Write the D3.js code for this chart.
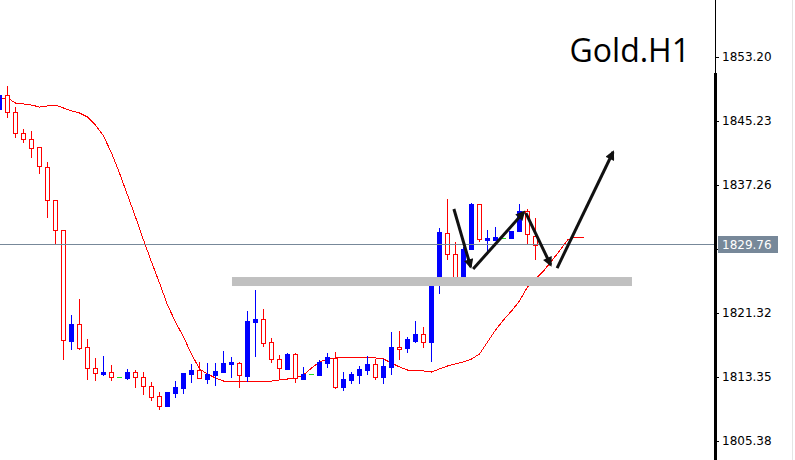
<!DOCTYPE html>
<html lang="en">
<meta charset="utf-8">
<style>
  body { margin: 0; background: #fff; }
  svg { display: block; }
  .tick text { font-family: 'DejaVu Sans', sans-serif; font-size: 12px; fill: #000; }
</style>
<body>
<div id="chart"></div>
<script src="https://d3js.org/d3.v7.min.js"></script>
<script>

// hourly bars, oldest first
var opens = [1846.72, 1848.47, 1846.35, 1843.74, 1842.99, 1841.99, 1839.50, 1835.39, 1831.66, 1817.83,
  1819.95, 1817.09, 1814.47, 1813.72, 1813.97, 1813.35, 1813.23, 1813.97, 1813.35, 1812.23,
  1810.98, 1809.74, 1811.36, 1811.98, 1813.72, 1814.22, 1813.10, 1813.60, 1813.97, 1814.97,
  1815.09, 1813.48, 1820.20, 1820.57, 1817.71, 1815.59, 1814.35, 1816.21, 1813.10, 1813.72,
  1813.60, 1815.09, 1815.72, 1812.11, 1812.98, 1813.60, 1814.22, 1814.97, 1813.35, 1814.60,
  1817.09, 1816.96, 1817.83, 1818.70, 1817.71, 1825.06, 1831.28, 1828.67, 1825.80, 1829.29,
  1834.89, 1830.41, 1830.41, 1830.66, 1830.66, 1831.53, 1834.02, 1830.91];
var highs = [1848.84, 1849.59, 1846.97, 1844.23, 1843.99, 1841.99, 1840.12, 1835.39, 1831.66, 1821.07,
  1823.06, 1818.08, 1815.72, 1815.97, 1814.85, 1813.35, 1814.35, 1814.22, 1813.97, 1812.73,
  1811.48, 1811.48, 1812.85, 1813.85, 1814.97, 1815.22, 1815.09, 1815.09, 1816.59, 1815.84,
  1815.22, 1821.57, 1824.18, 1821.82, 1818.21, 1816.09, 1816.34, 1816.34, 1814.60, 1813.72,
  1815.47, 1816.34, 1816.46, 1813.97, 1813.97, 1814.72, 1815.97, 1815.59, 1815.59, 1818.95,
  1819.08, 1818.33, 1820.32, 1819.58, 1825.06, 1831.91, 1835.52, 1830.16, 1829.54, 1835.02,
  1834.89, 1831.66, 1832.03, 1830.66, 1831.53, 1834.89, 1834.27, 1833.15];
var lows = [1846.60, 1845.73, 1843.24, 1842.61, 1840.75, 1838.75, 1833.28, 1829.91, 1815.59, 1816.84,
  1816.84, 1813.10, 1812.98, 1813.60, 1812.98, 1813.35, 1813.10, 1812.11, 1811.23, 1810.49,
  1809.37, 1809.74, 1810.86, 1811.36, 1812.73, 1813.23, 1812.60, 1812.35, 1813.97, 1813.35,
  1812.11, 1812.85, 1815.97, 1817.21, 1815.22, 1813.10, 1814.35, 1812.73, 1813.10, 1813.72,
  1813.60, 1814.60, 1811.98, 1811.73, 1812.60, 1812.60, 1813.72, 1813.10, 1812.60, 1813.72,
  1815.59, 1816.46, 1817.71, 1817.09, 1815.34, 1823.81, 1828.04, 1825.80, 1825.80, 1829.29,
  1830.29, 1828.79, 1830.41, 1830.66, 1830.66, 1831.53, 1829.91, 1828.04];
var closes = [1848.47, 1846.35, 1843.74, 1842.99, 1841.87, 1839.63, 1835.39, 1831.66, 1817.96, 1819.95,
  1816.96, 1814.47, 1813.85, 1813.97, 1813.35, 1813.35, 1813.97, 1813.35, 1812.23, 1810.86,
  1809.74, 1811.48, 1812.11, 1813.85, 1814.22, 1813.23, 1813.72, 1814.10, 1815.09, 1815.22,
  1813.60, 1820.32, 1820.57, 1817.58, 1815.59, 1814.47, 1816.21, 1813.23, 1813.72, 1813.72,
  1815.22, 1815.84, 1812.11, 1813.10, 1813.72, 1814.35, 1814.97, 1813.35, 1814.72, 1817.09,
  1816.84, 1818.08, 1818.70, 1817.71, 1825.06, 1831.41, 1828.67, 1825.80, 1829.29, 1834.89,
  1830.54, 1830.66, 1830.78, 1830.66, 1831.53, 1834.02, 1831.16, 1829.76];

// shifted moving average (runs a few bars past the last candle)
var maValues = [1848.09, 1848.09, 1847.47, 1847.35, 1847.22, 1846.97, 1847.10, 1847.22, 1846.85, 1846.48,
  1846.23, 1845.73, 1844.73, 1843.36, 1841.25, 1838.75, 1836.02, 1833.28, 1830.41, 1827.67,
  1825.06, 1822.32, 1820.20, 1818.33, 1816.21, 1814.35, 1813.72, 1813.23, 1812.85, 1812.73,
  1812.73, 1812.73, 1812.73, 1812.85, 1812.85, 1812.98, 1813.10, 1813.23, 1813.60, 1814.47,
  1815.22, 1815.59, 1815.72, 1815.72, 1815.72, 1815.72, 1815.72, 1815.72, 1815.59, 1815.09,
  1814.60, 1814.22, 1814.22, 1814.10, 1813.97, 1814.35, 1814.72, 1814.97, 1815.22, 1815.59,
  1816.21, 1817.71, 1819.20, 1820.45, 1821.57, 1822.81, 1824.56, 1825.55, 1826.55, 1827.80,
  1829.04, 1830.41, 1830.78, 1830.66];

var priceTicks = [1853.20, 1845.23, 1837.26, 1829.29, 1821.32, 1813.35, 1805.38];
var lastPrice = 1829.76;
var title = "Gold.H1";

// support zone rectangle (bar index / price)
var zoneBars = [29.06, 79.06];
var zonePrices = [1824.68, 1825.80];

// drawn arrows: [bar, price] start -> end
var arrowStarts = [[56.8, 1834.27], [59.2, 1826.80], [65.8, 1833.77], [69.7, 1826.92]];
var arrowEnds = [[58.9, 1827.05], [65.56, 1833.90], [68.9, 1827.30], [76.7, 1841.37]];

var width = 795,
    height = 460,
    axisX = 715;

var x = d3.scaleLinear().domain([0, 89]).range([-0.5, 711.5]);
var y = d3.scaleLinear().domain([1805.38, 1853.20]).range([441, 57]);

var svg = d3.select("#chart").append("svg")
    .attr("width", width)
    .attr("height", height);

svg.append("rect").attr("width", width).attr("height", height).attr("fill", "#fff");

var py = function(v) { return Math.round(y(v)) + 0.5; };

// moving average
svg.append("path")
    .datum(maValues)
    .attr("fill", "none")
    .attr("stroke", "#ff0000")
    .attr("stroke-width", 1)
    .attr("shape-rendering", "crispEdges")
    .attr("d", d3.line().x(function(d, i) { return x(i); }).y(function(d) { return y(d); }));

// candles
var bars = d3.range(opens.length).map(function(i) {
  return { i: i, o: opens[i], h: highs[i], l: lows[i], c: closes[i] };
});

var candle = svg.append("g").attr("shape-rendering", "crispEdges")
  .selectAll("g").data(bars).enter().append("g");

candle.filter(function(d) { return d.o !== d.c; })
  .append("line")
    .attr("x1", function(d) { return x(d.i); })
    .attr("x2", function(d) { return x(d.i); })
    .attr("y1", function(d) { return py(d.h) - 0.5; })
    .attr("y2", function(d) { return py(d.l) + 0.5; })
    .attr("stroke", function(d) { return d.c > d.o ? "#0000ff" : "#ff0000"; });

// up bars: solid blue
candle.filter(function(d) { return d.c > d.o; })
  .append("rect")
    .attr("x", function(d) { return x(d.i) - 2.5; })
    .attr("width", 5)
    .attr("y", function(d) { return py(d.c) - 0.5; })
    .attr("height", function(d) { return Math.max(2, py(d.o) - py(d.c) + 1); })
    .attr("fill", "#0000ff");

// down bars: hollow red
candle.filter(function(d) { return d.c < d.o; })
  .append("rect")
    .attr("x", function(d) { return x(d.i) - 2; })
    .attr("width", 4)
    .attr("y", function(d) { return py(d.o); })
    .attr("height", function(d) { return Math.max(1, py(d.c) - py(d.o)); })
    .attr("fill", "#fff")
    .attr("stroke", "#ff0000");

// doji
candle.filter(function(d) { return d.c === d.o; })
  .append("line")
    .attr("x1", function(d) { return x(d.i) - 2.5; })
    .attr("x2", function(d) { return x(d.i) + 2.5; })
    .attr("y1", function(d) { return py(d.c); })
    .attr("y2", function(d) { return py(d.c); })
    .attr("stroke", "#22dd22");

// grey zone
svg.append("rect")
    .attr("x", x(zoneBars[0]))
    .attr("width", x(zoneBars[1]) - x(zoneBars[0]))
    .attr("y", y(zonePrices[1]))
    .attr("height", y(zonePrices[0]) - y(zonePrices[1]))
    .attr("fill", "#c0c0c0");

// current price line
svg.append("line")
    .attr("x1", 0).attr("x2", axisX)
    .attr("y1", py(lastPrice) - 1).attr("y2", py(lastPrice) - 1)
    .attr("stroke", "#778899")
    .attr("shape-rendering", "crispEdges");

// arrows
svg.append("defs").append("marker")
    .attr("id", "head")
    .attr("viewBox", "0 0 10 10")
    .attr("refX", 8).attr("refY", 5)
    .attr("markerWidth", 3.6).attr("markerHeight", 3.2)
    .attr("markerUnits", "strokeWidth")
    .attr("orient", "auto")
  .append("path")
    .attr("d", "M0,0L10,5L0,10z")
    .attr("fill", "#111");

svg.append("g").selectAll("line")
    .data(arrowStarts)
  .enter().append("line")
    .attr("x1", function(d) { return x(d[0]); })
    .attr("y1", function(d) { return y(d[1]); })
    .attr("x2", function(d, i) { return x(arrowEnds[i][0]); })
    .attr("y2", function(d, i) { return y(arrowEnds[i][1]); })
    .attr("stroke", "#111")
    .attr("stroke-width", 3)
    .attr("marker-end", "url(#head)");

// price axis
var axis = svg.append("g")
    .attr("transform", "translate(" + axisX + ",0)")
    .call(d3.axisRight(y)
      .tickValues(priceTicks)
      .tickFormat(d3.format(".2f"))
      .tickSize(4)
      .tickPadding(3));
axis.select(".domain").remove();
axis.selectAll(".tick line").attr("stroke", "#000").attr("shape-rendering", "crispEdges");

svg.append("line")
    .attr("x1", axisX + 0.5).attr("x2", axisX + 0.5)
    .attr("y1", 0).attr("y2", height)
    .attr("stroke", "#000")
    .attr("shape-rendering", "crispEdges");
svg.append("rect")
    .attr("x", axisX - 1).attr("width", 3)
    .attr("y", 73).attr("height", height - 73)
    .attr("fill", "#000");
svg.append("line")
    .attr("x1", 792.5).attr("x2", 792.5)
    .attr("y1", 0).attr("y2", height)
    .attr("stroke", "#e4e4e4");

// current price label
svg.append("rect")
    .attr("x", 718).attr("width", 60)
    .attr("y", py(lastPrice) - 9.5).attr("height", 17)
    .attr("fill", "#778899");
svg.append("text")
    .attr("x", 722).attr("y", py(lastPrice) - 1)
    .attr("dy", "0.35em")
    .attr("font-family", "'DejaVu Sans', sans-serif")
    .attr("font-size", 12)
    .attr("fill", "#fff")
    .text(d3.format(".2f")(lastPrice));

// symbol title
svg.append("text")
    .attr("x", 690).attr("y", 62)
    .attr("text-anchor", "end")
    .attr("font-family", "'Open Sans', sans-serif")
    .attr("font-size", 32)
    .attr("fill", "#000")
    .text(title);

</script>
</body>
</html>
